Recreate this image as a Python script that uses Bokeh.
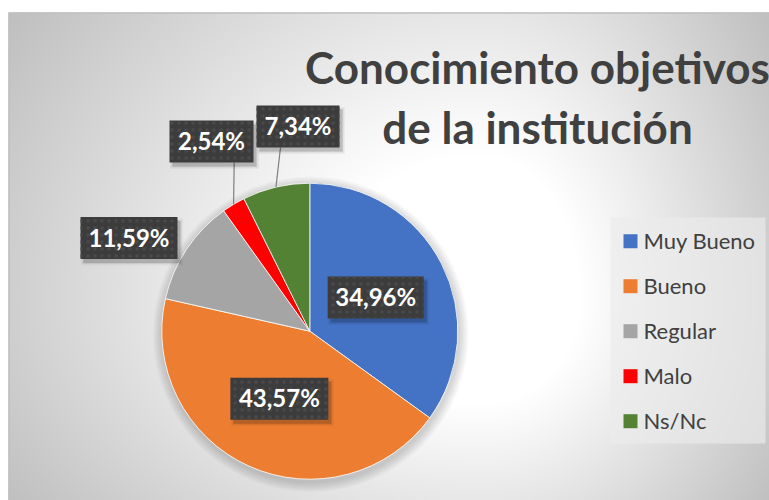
import numpy as np
from bokeh.plotting import figure
from bokeh.models import Range1d, ColumnDataSource
from bokeh.core.properties import value
from bokeh.embed import file_html
from bokeh.resources import INLINE

# ---------------- data ----------------
categories = ["Muy Bueno", "Bueno", "Regular", "Malo", "Ns/Nc"]
percentages = [34.96, 43.57, 11.59, 2.54, 7.34]
label_texts = ["34,96%", "43,57%", "11,59%", "2,54%", "7,34%"]
colors = ["#4472C4", "#ED7D31", "#A5A5A5", "#FF0000", "#548235"]
title_lines = ["Conocimiento objetivos", "de la institución"]

# ---------------- layout (reference pixel coords) ----------------
W, H = 769, 500
def X(xr):
    return xr
def Y(yr):
    return H - yr

PIE_C = (309.3, 330.7)
PIE_R = 148
outside_label_pos = [None, None, (128.5, 237.5), (211.0, 141.0), (297.5, 126.0)]
label_box_w = [96, 98, 97, 84, 83]
label_box_h = 42
leader_top_x = [None, None, None, 233.7, 280.0]
FONT = "Lato"

p = figure(width=W, height=H, x_range=Range1d(0, W), y_range=Range1d(0, H),
           output_backend="svg", toolbar_location=None, min_border=0,
           x_axis_location=None, y_axis_location=None)
p.grid.visible = False
p.outline_line_color = None
p.background_fill_color = "white"
p.border_fill_color = "white"

# ---------------- background gradient ----------------
gx0, gy_top = 8, 12
gw, gh = W - gx0, H - gy_top
xs = np.arange(gw) + 0.5 + gx0
ys = H - (np.arange(gh) + 0.5)
XX, YY = np.meshgrid(xs, ys)
dx = XX - 480
dy = YY - 300
u = np.where(dx < 0, dx / 470.0, dx / 290.0)
v = np.where(dy < 0, dy / 420.0, dy / 300.0)
t = np.sqrt(u ** 2 + v ** 2)
c = 255 - 48 * np.clip((t - 0.35) / 0.65, 0, None)
c = np.clip(c, 188, 255).astype(np.uint8)
img = np.empty((gh, gw), dtype=np.uint32)
view = img.view(dtype=np.uint8).reshape((gh, gw, 4))
view[..., 0] = c
view[..., 1] = c
view[..., 2] = c
view[..., 3] = 255
p.image_rgba(image=[img], x=gx0, y=0, dw=gw, dh=gh)

# chart border
p.segment(x0=[X(8), X(8.5)], y0=[Y(12.5), 0], x1=[W, X(8.5)], y1=[Y(12.5), Y(12.5)],
          line_color="#BFBFBF", line_width=1.5)

# ---------------- title ----------------
p.text(x=[X(537), X(537)], y=[Y(66.5), Y(126.5)], text=title_lines,
       text_font=value(FONT), text_font_style="bold", text_font_size="44px",
       text_color="#404040", text_align="center", text_baseline="middle")

# ---------------- pie ----------------
cx, cy = X(PIE_C[0]), Y(PIE_C[1])
vals = np.array(percentages, dtype=float)
frac = vals / vals.sum()
cum = np.concatenate([[0.0], np.cumsum(frac)])
start = np.pi / 2 - 2 * np.pi * cum[:-1]
end = np.pi / 2 - 2 * np.pi * cum[1:]
mid = (start + end) / 2

# soft shadow
for k in range(1, 8):
    p.circle(x=cx + 1, y=cy - 3, radius=PIE_R + 1.4 * k, fill_color="black",
             fill_alpha=0.022, line_color=None)

src = ColumnDataSource(dict(start=start, end=end, color=colors, cat=categories))
p.wedge(x=cx, y=cy, radius=PIE_R, start_angle="start", end_angle="end",
        direction="clock", fill_color="color", line_color="white", line_width=0.8,
        source=src)

# ---------------- data labels ----------------
bx, by = [], []
for i in range(len(categories)):
    if outside_label_pos[i] is None:
        bx.append(cx + 0.5 * PIE_R * np.cos(mid[i]))
        by.append(cy + 0.5 * PIE_R * np.sin(mid[i]))
    else:
        bx.append(X(outside_label_pos[i][0]))
        by.append(Y(outside_label_pos[i][1]))

# leader lines
lx0, ly0, lx1, ly1 = [], [], [], []
for i in range(len(categories)):
    if leader_top_x[i] is not None:
        lx0.append(cx + PIE_R * np.cos(mid[i]))
        ly0.append(cy + PIE_R * np.sin(mid[i]))
        lx1.append(X(leader_top_x[i]))
        ly1.append(by[i] - label_box_h / 2)
p.segment(x0=lx0, y0=ly0, x1=lx1, y1=ly1, line_color="#7F7F7F", line_width=1.2)

# box shadows
for k, a in [(0, 0.14), (2, 0.07), (5, 0.04)]:
    p.rect(x=[b + 3 for b in bx], y=[b - 4 for b in by],
           width=[w + k for w in label_box_w], height=label_box_h + k,
           fill_color="black", fill_alpha=a, line_color=None)

p.rect(x=bx, y=by, width=label_box_w, height=label_box_h, fill_color="#3C3C3C",
       line_color=None, hatch_pattern="dot", hatch_color="#494949",
       hatch_scale=7, hatch_weight=1)
p.text(x=bx, y=[b + 1 for b in by], text=label_texts, text_font=value(FONT),
       text_font_style="bold", text_font_size="24px", text_color="white",
       text_align="center", text_baseline="middle")

# ---------------- legend ----------------
p.rect(x=[X(687.5)], y=[Y(330)], width=155, height=226, fill_color="#EBEBEB",
       fill_alpha=0.66, line_color=None)
leg_y = [Y(240.7 + 45 * i) for i in range(len(categories))]
p.rect(x=[X(630)] * len(categories), y=leg_y, width=14, height=14,
       fill_color=colors, line_color=None)
p.text(x=[X(643)] * len(categories), y=[yy + 1 for yy in leg_y], text=categories,
       text_font=value(FONT), text_font_size="22px", text_color="#404040",
       text_align="left", text_baseline="middle")

open("out.html", "w").write(file_html(p, INLINE))
